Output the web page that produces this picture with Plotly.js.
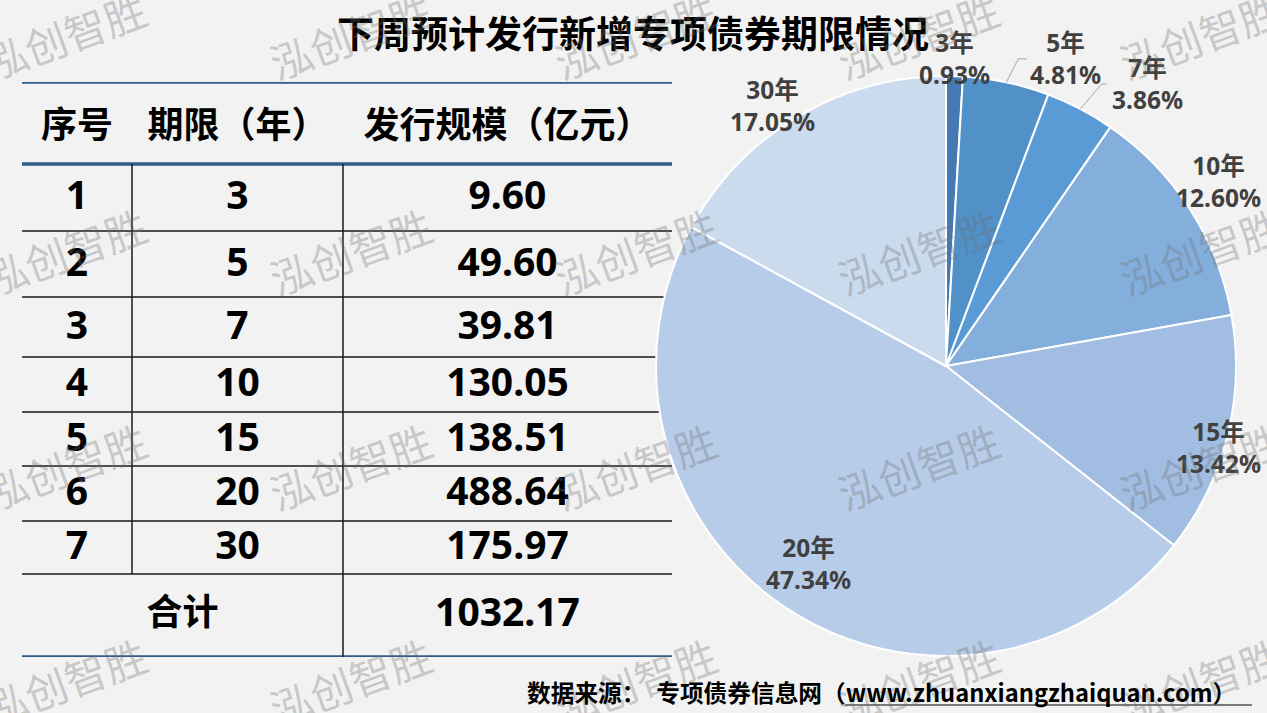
<!DOCTYPE html>
<html>
<head>
<meta charset="utf-8">
<script src="https://cdn.plot.ly/plotly-3.0.1.min.js"></script>
<style>
  html, body { margin: 0; padding: 0; background: #f2f2f2; }
  #chart { width: 1267px; height: 713px; }
</style>
</head>
<body>
<div id="chart"></div>
<script>
// ---------------- data ----------------
const chartTitle = '下周预计发行新增专项债券期限情况';
const tableHeaders = ['序号', '期限（年）', '发行规模（亿元）'];
const seqNo = ['1', '2', '3', '4', '5', '6', '7'];
const termYears = [3, 5, 7, 10, 15, 20, 30];
const amounts = [9.60, 49.60, 39.81, 130.05, 138.51, 488.64, 175.97];
const totalLabel = '合计';
const totalAmount = 1032.17;
const yearSuffix = '年';
const sourceText = '数据来源：  专项债券信息网（www.zhuanxiangzhaiquan.com）';
const watermarkText = '泓创智胜';

// ---------------- style / layout constants ----------------
const W = 1267, H = 713;
const FONT_CJK = '"Noto Sans CJK SC", "Noto Sans", sans-serif';
const FONT_NUM = '"Noto Sans", "Noto Sans CJK SC", sans-serif';
const sliceColors = ['#4679b3', '#5290c8', '#5b9bd5', '#84afdc', '#a1bde1', '#b7cce8', '#cadbee'];
// label centre offset (px) from the slice's mid-angle point on the rim
const labelOff = [[0, -18], [59, -23.5], [67, -25], [29, -27], [-9, 11], [22, -45], [-25, -11]];
// leader lines (px offsets from rim point): [elbow, end] or null
const leaderOff = [null, [[12, -23.5], [20.5, -23.5]], [[21.5, -25], [26.5, -25]], null, null, null, null];
const labelColor = '#404040';
const leaderColor = '#a6a6a6';
// table geometry (px)
const tableLeft = 22, tableTop = 82;
const colW = [110, 211, 329];
const rowH = [82, 67, 66, 60, 55, 54, 55, 53, 83]; // header, 7 rows, total
const blueLine = '#2e5b88';
const thinLine = '#1a1a1a';
// pie geometry (px)
const pieCx = 946, pieCy = 366, pieR = 290;
// watermark grid (px)
const wmCols = [65, 350, 635, 918, 1200];
const wmRows = [35, 250, 465, 680];

// ---------------- derived table geometry ----------------
const tableW = colW.reduce((a, b) => a + b, 0);
const tableH = rowH.reduce((a, b) => a + b, 0);
const colEdge = [0];
colW.forEach(w => colEdge.push(colEdge[colEdge.length - 1] + w));
const rowEdge = [0];
rowH.forEach(h => rowEdge.push(rowEdge[rowEdge.length - 1] + h));
const colMid = colW.map((w, i) => colEdge[i] + w / 2);
const rowMid = rowH.map((h, i) => rowEdge[i] + h / 2);

// table cell texts
const cellX = [], cellY = [], cellT = [], cellSize = [];
tableHeaders.forEach((h, c) => {
  cellX.push(colMid[c]); cellY.push(rowMid[0] + 6); cellT.push('<b>' + h + '</b>'); cellSize.push(36);
});
seqNo.forEach((s, r) => {
  const rowVals = [s, String(termYears[r]), amounts[r].toFixed(2)];
  rowVals.forEach((v, c) => {
    cellX.push(colMid[c]); cellY.push(rowMid[r + 1] + 2); cellT.push('<b>' + v + '</b>'); cellSize.push(39);
  });
});
cellX.push((colEdge[0] + colEdge[2]) / 2); cellY.push(rowMid[rowH.length - 1]);
cellT.push('<b>' + totalLabel + '</b>'); cellSize.push(36);
cellX.push(colMid[2]); cellY.push(rowMid[rowH.length - 1] + 1);
cellT.push('<b>' + totalAmount.toFixed(2) + '</b>'); cellSize.push(39);

const tableText = {
  type: 'scatter', mode: 'text', x: cellX, y: cellY, text: cellT,
  textposition: 'middle center',
  textfont: { family: FONT_NUM, size: cellSize, color: '#000000' },
  hoverinfo: 'skip', showlegend: false, xaxis: 'x', yaxis: 'y'
};

// table lines as shapes in table-axis coordinates
const shapes = [];
function hline(y, color, width) {
  shapes.push({ type: 'line', xref: 'x', yref: 'y', x0: 0, x1: tableW, y0: y, y1: y,
    line: { color: color, width: width }, layer: 'below' });
}
hline(rowEdge[0], blueLine, 3.5);
hline(rowEdge[1], blueLine, 3.5);
for (let i = 2; i < rowEdge.length - 1; i++) hline(rowEdge[i], thinLine, 1.5);
hline(rowEdge[rowEdge.length - 1], blueLine, 3.5);
shapes.push({ type: 'line', xref: 'x', yref: 'y', x0: colEdge[1], x1: colEdge[1],
  y0: rowEdge[1], y1: rowEdge[rowEdge.length - 2], line: { color: thinLine, width: 1.5 }, layer: 'below' });
shapes.push({ type: 'line', xref: 'x', yref: 'y', x0: colEdge[2], x1: colEdge[2],
  y0: rowEdge[1], y1: rowEdge[rowEdge.length - 1], line: { color: thinLine, width: 1.5 }, layer: 'below' });
// source underline
shapes.push({ type: 'line', xref: 'paper', yref: 'paper', x0: 845 / W, x1: 1252 / W,
  y0: 1 - 705 / H, y1: 1 - 705 / H, line: { color: '#000000', width: 1.2 } });

// pie
const pie = {
  type: 'pie',
  labels: termYears.map(t => t + yearSuffix),
  values: amounts,
  sort: false,
  direction: 'clockwise',
  rotation: 0,
  marker: { colors: sliceColors, line: { color: '#ffffff', width: 2 } },
  textinfo: 'none',
  domain: { x: [(pieCx - pieR) / W, (pieCx + pieR) / W], y: [1 - (pieCy + pieR) / H, 1 - (pieCy - pieR) / H] },
  hoverinfo: 'skip', showlegend: false
};

// annotations: slice labels, watermark, source
const annotations = [];
const px2x = px => px / W, px2y = py => 1 - py / H;
const total = amounts.reduce((a, b) => a + b, 0);
let cum = 0;
amounts.forEach((v, i) => {
  const mid = (cum + v / 2) / total * 2 * Math.PI;
  cum += v;
  const rx = pieCx + pieR * Math.sin(mid), ry = pieCy - pieR * Math.cos(mid);
  const lx = rx + labelOff[i][0], ly = ry + labelOff[i][1];
  annotations.push({ xref: 'paper', yref: 'paper', x: px2x(lx), y: px2y(ly),
    text: '<b>' + termYears[i] + yearSuffix + '<br>' + (v / total * 100).toFixed(2) + '%</b>',
    font: { family: FONT_NUM, size: 24.5, color: labelColor }, showarrow: false,
    xanchor: 'center', yanchor: 'middle', align: 'center' });
  if (leaderOff[i]) {
    const e = leaderOff[i][0], t = leaderOff[i][1];
    shapes.push({ type: 'path', xref: 'paper', yref: 'paper',
      path: 'M ' + px2x(rx) + ' ' + px2y(ry) + ' L ' + px2x(rx + e[0]) + ' ' + px2y(ry + e[1]) +
            ' L ' + px2x(rx + t[0]) + ' ' + px2y(ry + t[1]),
      line: { color: leaderColor, width: 1 } });
  }
});
wmRows.forEach(ry => wmCols.forEach(cx => {
  annotations.push({ xref: 'paper', yref: 'paper', x: cx / W, y: 1 - ry / H,
    text: watermarkText, showarrow: false, textangle: -20,
    font: { family: FONT_CJK, size: 42, color: 'rgba(110,110,110,0.33)' },
    xanchor: 'center', yanchor: 'middle' });
}));
annotations.push({ xref: 'paper', yref: 'paper', x: 1238 / W, y: 1 - 692 / H,
  xanchor: 'right', yanchor: 'middle', showarrow: false,
  text: '<b>' + sourceText + '</b>',
  font: { family: FONT_CJK, size: 23.7, color: '#000000' } });

const layout = {
  width: W, height: H,
  margin: { l: 0, r: 0, t: 0, b: 0 },
  paper_bgcolor: '#f2f2f2', plot_bgcolor: 'rgba(0,0,0,0)',
  title: { text: '<b>' + chartTitle + '</b>', x: 633 / W, xanchor: 'center',
    y: 1 - 35 / H, yanchor: 'middle', font: { family: FONT_CJK, size: 37, color: '#000000' } },
  xaxis: { domain: [tableLeft / W, (tableLeft + tableW) / W], range: [0, tableW],
    visible: false, fixedrange: true },
  yaxis: { domain: [1 - (tableTop + tableH) / H, 1 - tableTop / H], range: [tableH, 0],
    visible: false, fixedrange: true },
  shapes: shapes,
  annotations: annotations,
  showlegend: false
};

Plotly.newPlot('chart', [tableText, pie], layout, { staticPlot: true, displayModeBar: false });
</script>
</body>
</html>
